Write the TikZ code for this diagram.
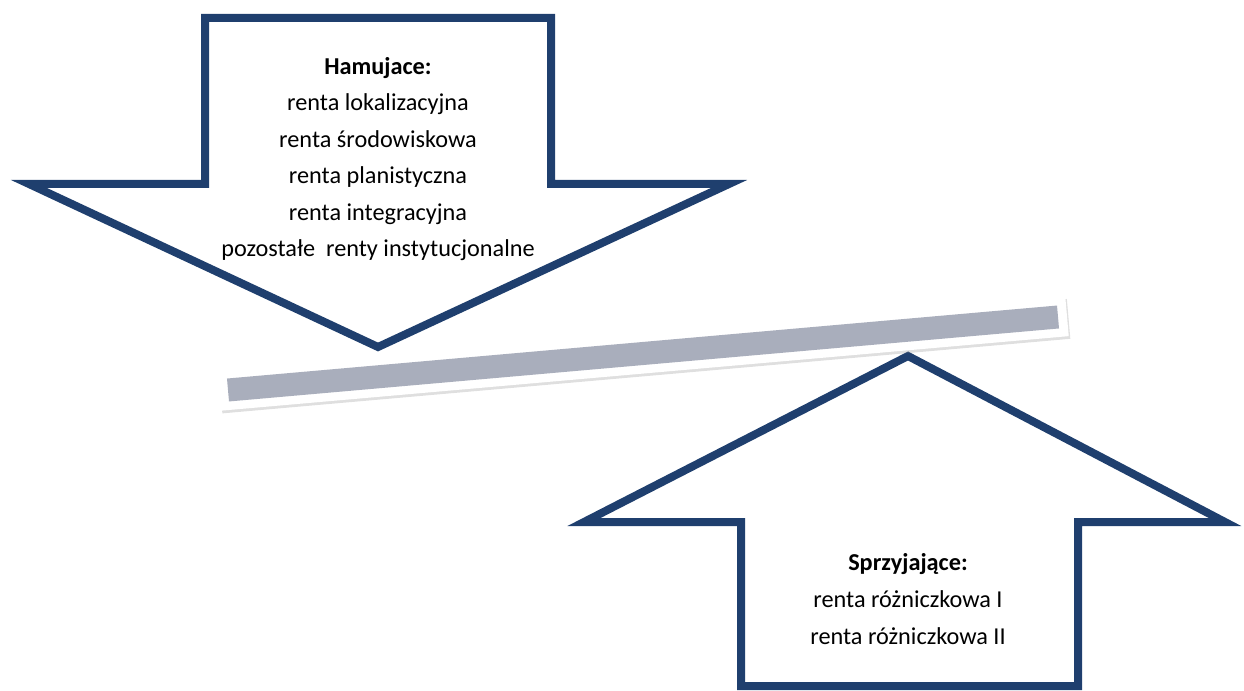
\documentclass[tikz,border=0pt]{standalone}
\usepackage{fontspec}
\setmainfont{Carlito}
\usetikzlibrary{shadows}
\definecolor{arrowblue}{RGB}{31,63,110}
\definecolor{bargrey}{RGB}{169,174,188}
\tikzset{every picture/.style={line width=0.75pt}}
\tikzset{
  rentarrow/.style={color=arrowblue, fill=white, line width=6pt, line join=miter},
  renttext/.style={anchor=base, inner sep=0.75pt, font=\fontsize{18.2}{22}\selectfont}
}

\begin{document}
\begin{tikzpicture}[x=0.75pt,y=0.75pt,yscale=-1,xscale=1]
\useasboundingbox (0,0) rectangle (1244,691);

%Shape: Down Arrow [Hamujace]
\draw [rentarrow] (205,18) -- (551,18) -- (551,184) -- (729,184) -- (378,347) -- (29,184) -- (205,184) -- cycle ;
%Shape: Up Arrow [Sprzyjajace]
\draw [rentarrow] (741,686) -- (741,522) -- (584,522) -- (908,356) -- (1225,522) -- (1078,522) -- (1078,686) -- cycle ;

%Shape: Bar frame
\draw [draw=none, fill=white, drop shadow={shadow xshift=1.2pt, shadow yshift=-2pt, opacity=0.25}] (217.28,370.87) -- (1065.22,296.29) -- (1068.72,336.13) -- (220.78,410.71) -- cycle ;
%Shape: Bar
\draw [draw=none, fill=bargrey] (226.99,378.54) -- (1056.99,305.54) -- (1059.01,328.46) -- (229.01,401.46) -- cycle ;

% Text Node
\node [renttext] (hamTitle) at (378,75) {\textbf{Hamujace:}};
% Text Node
\node [renttext] (hamLok) at (378,111) {renta lokalizacyjna};
% Text Node
\node [renttext] (hamSrod) at (378,148) {renta środowiskowa};
% Text Node
\node [renttext] (hamPlan) at (378,184) {renta planistyczna};
% Text Node
\node [renttext] (hamInt) at (378,221) {renta integracyjna};
% Text Node
\node [renttext] (hamPoz) at (378,257) {pozostałe\ \ renty instytucjonalne};
% Text Node
\node [renttext] (sprzTitle) at (908,570) {\textbf{Sprzyjające:}};
% Text Node
\node [renttext] (sprzRozI) at (908,607) {renta różniczkowa I};
% Text Node
\node [renttext] (sprzRozII) at (908,644) {renta różniczkowa II};

\end{tikzpicture}
\end{document}
